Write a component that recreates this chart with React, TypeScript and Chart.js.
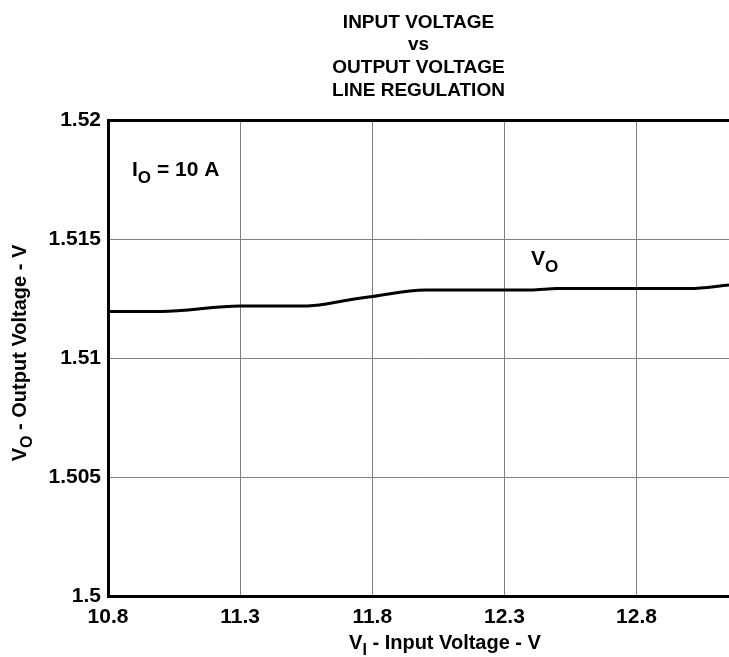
import React, { useEffect, useRef } from "react";
import { Chart, registerables } from "chart.js";

Chart.register(...registerables);

// ---- data ----
const inputVoltage = [10.8, 11.0, 11.3, 11.5, 11.6, 11.7, 11.8, 12.0, 12.4, 12.5, 13.0, 13.15];
const outputVoltage = [1.51195, 1.51195, 1.51218, 1.51218, 1.51223, 1.51242, 1.51258, 1.51286, 1.51286, 1.51292, 1.51292, 1.51307];
const xTicks = [10.8, 11.3, 11.8, 12.3, 12.8];
const yTicks = [1.5, 1.505, 1.51, 1.515, 1.52];
const titleLines = ["INPUT VOLTAGE", "vs", "OUTPUT VOLTAGE", "LINE REGULATION"];

const FONT = "'Liberation Sans', Arial, Helvetica, sans-serif";

type Part = { text: string; sub?: boolean };

function subSize(size: number) {
  return Math.round(size * 0.8);
}

function richWidth(ctx: CanvasRenderingContext2D, parts: Part[], size: number) {
  let w = 0;
  for (const p of parts) {
    ctx.font = `bold ${p.sub ? subSize(size) : size}px ${FONT}`;
    w += ctx.measureText(p.text).width;
  }
  return w;
}

function drawRich(ctx: CanvasRenderingContext2D, parts: Part[], x: number, y: number, size: number, align: "left" | "center") {
  const w = richWidth(ctx, parts, size);
  let cx = align === "center" ? x - w / 2 : x;
  ctx.textAlign = "left";
  ctx.textBaseline = "alphabetic";
  for (const p of parts) {
    const s = p.sub ? subSize(size) : size;
    ctx.font = `bold ${s}px ${FONT}`;
    ctx.fillText(p.text, cx, p.sub ? y + size * 0.32 : y);
    cx += ctx.measureText(p.text).width;
  }
}

const textPlugin = {
  id: "texts",
  afterDraw(chart: any) {
    const ctx: CanvasRenderingContext2D = chart.ctx;
    const a = chart.chartArea;
    ctx.save();
    ctx.fillStyle = "#000";
    // title
    const cx = (a.left + a.right) / 2;
    const baselines = [28, 50, 73, 96];
    titleLines.forEach((t, i) => {
      drawRich(ctx, [{ text: t }], cx, baselines[i], 19, "center");
    });
    // x axis title
    drawRich(
      ctx,
      [{ text: "V" }, { text: "I", sub: true }, { text: " - Input Voltage - V" }],
      445,
      649,
      20,
      "center"
    );
    // y axis title
    ctx.save();
    ctx.translate(26, (a.top + a.bottom) / 2 - 5);
    ctx.rotate(-Math.PI / 2);
    drawRich(ctx, [{ text: "V" }, { text: "O", sub: true }, { text: " - Output Voltage - V" }], 0, 0, 20, "center");
    ctx.restore();
    // annotations
    drawRich(ctx, [{ text: "I" }, { text: "O", sub: true }, { text: " = 10 A" }], 132, 176, 21, "left");
    drawRich(ctx, [{ text: "V" }, { text: "O", sub: true }], 531, 265, 21, "left");
    ctx.restore();
  },
};

export default function App() {
  const ref = useRef<HTMLCanvasElement | null>(null);

  useEffect(() => {
    document.body.style.margin = "0";
    const canvas = ref.current!;
    const chart = new Chart(canvas, {
      type: "line",
      data: {
        datasets: [
          {
            label: "VO",
            data: inputVoltage.map((x, i) => ({ x, y: outputVoltage[i] })),
            borderColor: "#000",
            borderWidth: 3,
            pointRadius: 0,
            cubicInterpolationMode: "monotone",
            fill: false,
          },
        ],
      },
      options: {
        animation: false,
        responsive: false,
        devicePixelRatio: 1,
        layout: { padding: { top: 120, left: 0, right: 0, bottom: 0 } },
        plugins: {
          legend: { display: false },
          title: { display: false },
          tooltip: { enabled: false },
        },
        scales: {
          x: {
            type: "linear",
            min: 10.8,
            max: 13.15,
            afterBuildTicks: (s: any) => {
              s.ticks = xTicks.map((v) => ({ value: v }));
            },
            afterFit: (s: any) => {
              s.height = 61;
            },
            grid: { color: "#808080", lineWidth: 1, drawTicks: false },
            border: { color: "#000", width: 3 },
            ticks: {
              color: "#000",
              padding: 9,
              font: { family: FONT, size: 21, weight: "bold" },
              callback: (v: any) => Number(v).toFixed(1),
              maxRotation: 0,
            },
          },
          y: {
            type: "linear",
            min: 1.5,
            max: 1.52,
            afterBuildTicks: (s: any) => {
              s.ticks = yTicks.map((v) => ({ value: v }));
            },
            afterFit: (s: any) => {
              s.width = 108;
            },
            grid: {
              color: (c: any) => (c.tick && Math.abs(c.tick.value - 1.52) < 1e-9 ? "#000" : "#808080"),
              lineWidth: (c: any) => (c.tick && Math.abs(c.tick.value - 1.52) < 1e-9 ? 3 : 1),
              drawTicks: false,
            },
            border: { color: "#000", width: 3 },
            ticks: {
              color: "#000",
              padding: 7,
              font: { family: FONT, size: 21, weight: "bold" },
              callback: (v: any) => String(Number(Number(v).toFixed(3))),
            },
          },
        },
      },
      plugins: [textPlugin],
    } as any);
    return () => chart.destroy();
  }, []);

  return <canvas ref={ref} width={729} height={657} style={{ display: "block" }} />;
}
